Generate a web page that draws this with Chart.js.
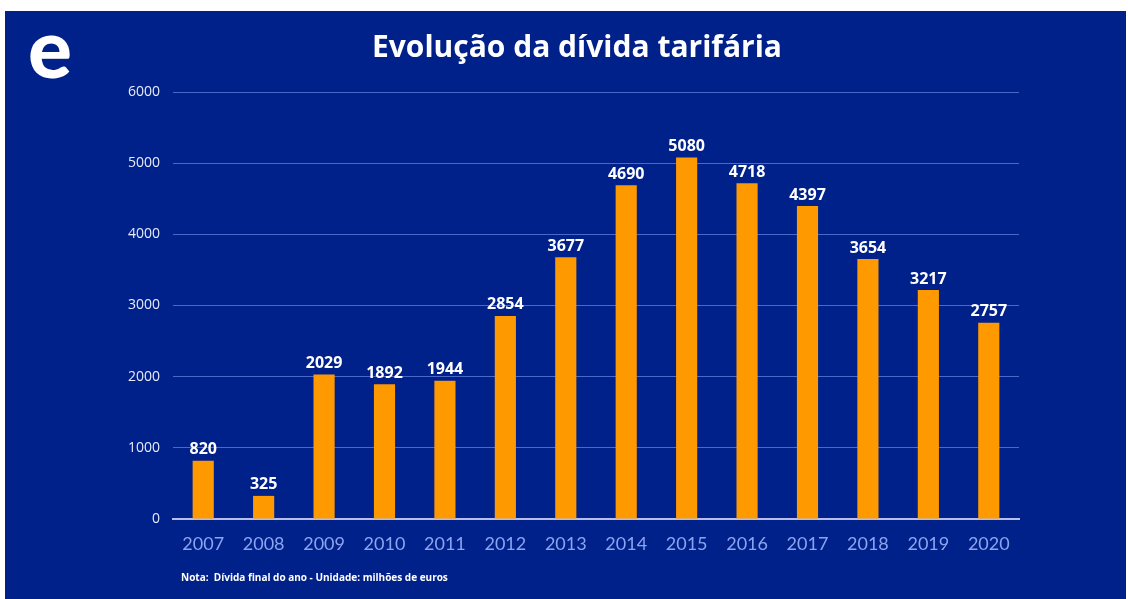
<!DOCTYPE html>
<html>
<head>
<meta charset="utf-8">
<script src="https://cdn.jsdelivr.net/npm/chart.js@4.4.0/dist/chart.umd.min.js"></script>
<style>
  html, body { margin: 0; padding: 0; background: #fff; width: 1128px; height: 599px; overflow: hidden; }
  #panel { position: absolute; left: 5px; top: 11px; width: 1121px; height: 588px; background: #00218a; }
  #chart { position: absolute; left: 0; top: 0; }
  #logo { position: absolute; left: 23px; top: -14px; color: #fff; font: 900 82px Lato, sans-serif; }
  #titulo { position: absolute; left: 367px; width: 400px; top: 14px; text-align: center; color: #fff; font: bold 30px "Open Sans", sans-serif; white-space: nowrap; }
  #nota { position: absolute; left: 176px; top: 559px; color: #fff; font: bold 10px "Open Sans", sans-serif; }
</style>
</head>
<body>
<div id="panel">
  <canvas id="chart" width="1121" height="588"></canvas>
  <div id="logo">e</div>
  <div id="titulo">Evolução da dívida tarifária</div>
  <div id="nota">Nota:&nbsp; Dívida final do ano - Unidade: milhões de euros</div>
</div>
<script>
// Dados
const anos = ['2007', '2008', '2009', '2010', '2011', '2012', '2013', '2014', '2015', '2016', '2017', '2018', '2019', '2020'];
const divida = [820, 325, 2029, 1892, 1944, 2854, 3677, 4690, 5080, 4718, 4397, 3654, 3217, 2757];
const ticksY = [0, 1000, 2000, 3000, 4000, 5000, 6000];

// Rótulos em cima das barras
const rotulos = {
    id: 'rotulos',
    afterDatasetsDraw(chart) {
        const { ctx } = chart;
        const meta = chart.getDatasetMeta(0);
        ctx.save();
        ctx.fillStyle = '#ffffff';
        ctx.font = 'bold 16px "Open Sans", sans-serif';
        ctx.textAlign = 'center';
        ctx.textBaseline = 'bottom';
        meta.data.forEach((bar, i) => {
            ctx.fillText(divida[i], bar.x, bar.y - 3);
        });
        ctx.restore();
    }
};

new Chart(document.getElementById('chart'), {
    type: 'bar',
    data: {
        labels: anos,
        datasets: [{
            data: divida,
            backgroundColor: '#ff9900',
            barPercentage: 0.7,
            categoryPercentage: 0.5
        }]
    },
    options: {
        responsive: false,
        animation: false,
        layout: { padding: { left: 0, right: 107, top: 81, bottom: 0 } },
        plugins: {
            legend: { display: false },
            tooltip: { enabled: false }
        },
        scales: {
            x: {
                afterFit(scale) { scale.height = 80; },
                grid: { display: false },
                border: { color: '#b4bee6', width: 2 },
                ticks: { color: '#8aa4f0', font: { family: 'Lato, sans-serif', size: 18 }, padding: 6 }
            },
            y: {
                min: 0,
                max: 6000,
                afterFit(scale) { scale.width = 168; },
                afterBuildTicks(scale) { scale.ticks = ticksY.map(v => ({ value: v })); },
                grid: { color: '#4a68c8', lineWidth: 1, drawTicks: false },
                border: { display: false },
                ticks: {
                    color: '#e6ebf8',
                    font: { family: '"Open Sans", sans-serif', size: 14 },
                    padding: 13,
                    callback: v => String(v)
                }
            }
        }
    },
    plugins: [rotulos]
});
</script>
</body>
</html>
